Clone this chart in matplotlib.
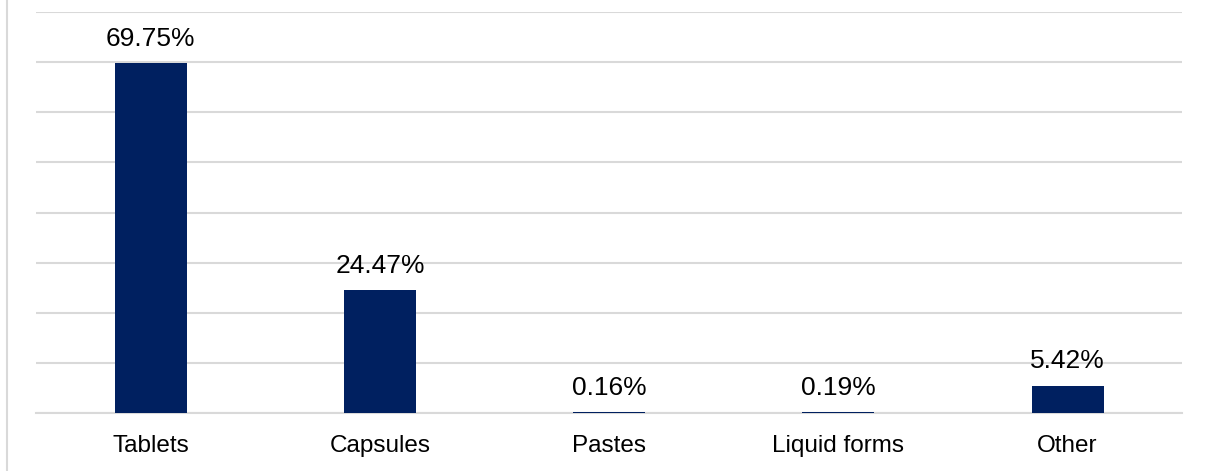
import matplotlib.pyplot as plt
from matplotlib.lines import Line2D

plt.rcParams['font.family'] = ['Liberation Sans', 'DejaVu Sans']

categories = ['Tablets', 'Capsules', 'Pastes', 'Liquid forms', 'Other']
shares = [69.75, 24.47, 0.16, 0.19, 5.42]
labels = ['69.75%', '24.47%', '0.16%', '0.19%', '5.42%']

navy = '#002060'
grid_grey = '#d9d9d9'

fig = plt.figure(figsize=(12.05, 4.71), dpi=100)
ax = fig.add_axes([0.0299, 0.1231, 0.9512, 0.8514])

x = range(len(categories))
bars = ax.bar(x, shares, width=0.314, color=navy, zorder=3)

for b, txt in zip(bars, labels):
    ax.annotate(txt, (b.get_x() + b.get_width() / 2, b.get_height()),
                xytext=(0, 9), textcoords='offset points',
                ha='center', va='bottom', fontsize=19, color='#000000')

ax.set_xlim(-0.5, len(categories) - 0.5)
ax.set_ylim(0, 80)
ax.set_yticks(range(0, 81, 10))
ax.set_yticklabels([])
ax.yaxis.grid(True, color=grid_grey, linewidth=1.5)
ax.set_axisbelow(True)
ax.set_xticks(list(x))
ax.set_xticklabels(categories, fontsize=17.5)
ax.tick_params(axis='both', length=0)
ax.tick_params(axis='x', pad=15.5)

for side in ['top', 'right', 'left']:
    ax.spines[side].set_visible(False)
ax.spines['bottom'].set_color(grid_grey)
ax.spines['bottom'].set_linewidth(1.5)

# thin frame line down the left edge
fig.add_artist(Line2D([0.006, 0.006], [0, 1], transform=fig.transFigure,
                      color=grid_grey, linewidth=1.5))

fig.savefig('out.png', dpi=100)
